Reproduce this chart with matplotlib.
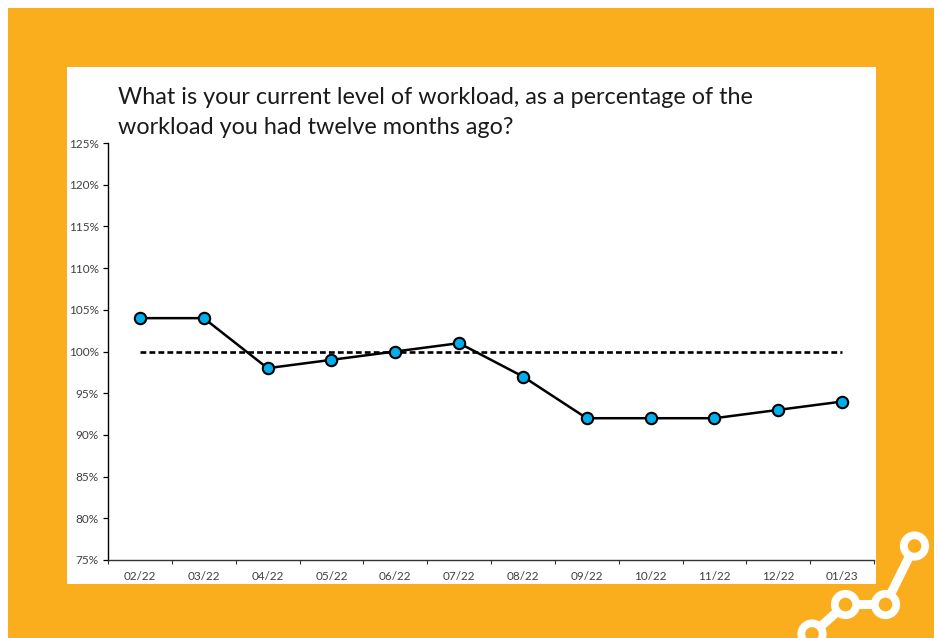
# plot.py - workload survey line chart on the orange card

import matplotlib
matplotlib.use("Agg")
import matplotlib.pyplot as plt
from matplotlib.patches import Circle, Rectangle
from matplotlib.ticker import FuncFormatter

W, H = 938, 638
ORANGE = "#FBAE1D"
MARKER = "#00AEEF"
TEXT = "#404040"

months = ["02/22", "03/22", "04/22", "05/22", "06/22", "07/22",
          "08/22", "09/22", "10/22", "11/22", "12/22", "01/23"]
workload = [104, 104, 98, 99, 100, 101, 97, 92, 92, 92, 93, 94]
baseline = [100] * len(months)
y_ticks = [75, 80, 85, 90, 95, 100, 105, 110, 115, 120, 125]
title = ("What is your current level of workload, as a percentage of the\n"
         "workload you had twelve months ago?")

# decoration in the corner, pixel coords from top-left
node_x = [812, 845.5, 885.5, 914.5]
node_y = [634, 604.5, 604.5, 546]

plt.rcParams["font.family"] = ["Lato", "DejaVu Sans"]

fig = plt.figure(figsize=(W / 100, H / 100), dpi=100)

# background layer in pixels
bg = fig.add_axes([0, 0, 1, 1])
bg.set_xlim(0, W)
bg.set_ylim(H, 0)
bg.axis("off")
bg.add_patch(Rectangle((8, 8), 926, 630, facecolor=ORANGE, edgecolor="none"))
bg.add_patch(Rectangle((67, 67), 809, 517, facecolor="white", edgecolor="none"))
bg.plot(node_x, node_y, color="white", linewidth=6.5, solid_capstyle="butt", zorder=2)
for nx, ny in zip(node_x, node_y):
    bg.add_patch(Circle((nx, ny), 10.7, facecolor=ORANGE, edgecolor="white",
                        linewidth=5.6, zorder=3))

line1, line2 = title.split("\n")
bg.text(118, 103.5, line1, fontsize=16.8, color="#1a1a1a", va="baseline")
bg.text(118, 134.5, line2, fontsize=16.8, color="#1a1a1a", va="baseline")

# chart
left, right, top, bottom = 108, 874, 143, 560
ax = fig.add_axes([left / W, 1 - bottom / H, (right - left) / W, (bottom - top) / H])
ax.patch.set_alpha(0)
x = list(range(len(months)))
ax.plot(x, baseline, color="black", linewidth=1.9, linestyle=(0, (2.2, 1.2)))
ax.plot(x, workload, color="black", linewidth=1.8, marker="o", markersize=8.2,
        markerfacecolor=MARKER, markeredgecolor="black", markeredgewidth=1.5)

ax.set_xlim(-0.5, len(months) - 0.5)
ax.set_ylim(75, 125)
ax.set_yticks(y_ticks)
ax.yaxis.set_major_formatter(FuncFormatter(lambda v, _: f"{v:.0f}%"))
ax.set_xticks([i - 0.5 for i in range(len(months) + 1)])
ax.set_xticklabels([])
ax.set_xticks(x, minor=True)
ax.set_xticklabels(months, minor=True)
ax.tick_params(axis="x", which="minor", length=0, pad=8, labelsize=8.5, labelcolor=TEXT)
ax.tick_params(axis="x", which="major", length=3, width=0.8, color="#333333", direction="out")
ax.tick_params(axis="y", length=3.5, width=0.9, pad=3, labelsize=8.5, labelcolor=TEXT)
ax.spines["top"].set_visible(False)
ax.spines["right"].set_visible(False)
ax.spines["left"].set_linewidth(1.0)
ax.spines["bottom"].set_linewidth(1.0)
ax.spines["bottom"].set_color("#333333")

fig.savefig("out.png", dpi=100)
plt.close(fig)
